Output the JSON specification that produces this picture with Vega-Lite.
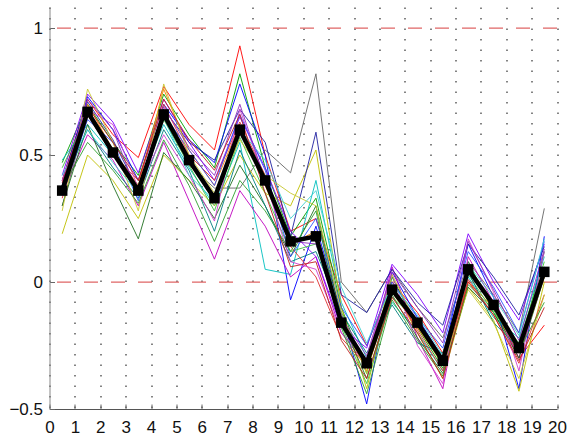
{
  "$schema": "https://vega.github.io/schema/vega-lite/v6.json",
  "width": 507.5,
  "height": 402,
  "autosize": {"type": "none"},
  "padding": {"left": 49.5, "top": 7, "right": 13, "bottom": 30},
  "background": "white",
  "config": {
    "view": {"stroke": null},
    "axis": {"labelFont": "Liberation Sans", "labelFontSize": 17, "labelColor": "#111", "domainColor": "#777", "ticks": true, "tickSize": -5, "tickColor": "#666", "title": null, "labelFlush": false}
  },
  "datasets": {
    "refs": [{"ref": 0}, {"ref": 1}],
    "mean": [
      {"x":0.5,"y":0.36},{"x":1.5,"y":0.67},{"x":2.5,"y":0.51},{"x":3.5,"y":0.36},{"x":4.5,"y":0.66},
      {"x":5.5,"y":0.48},{"x":6.5,"y":0.33},{"x":7.5,"y":0.60},{"x":8.5,"y":0.40},{"x":9.5,"y":0.16},
      {"x":10.5,"y":0.18},{"x":11.5,"y":-0.16},{"x":12.5,"y":-0.32},{"x":13.5,"y":-0.03},{"x":14.5,"y":-0.16},
      {"x":15.5,"y":-0.31},{"x":16.5,"y":0.05},{"x":17.5,"y":-0.09},{"x":18.5,"y":-0.26},{"x":19.5,"y":0.04}
    ],
    "thin": [
      {"s":"s1","x":0.5,"y":0.40},{"s":"s1","x":1.5,"y":0.72},{"s":"s1","x":2.5,"y":0.58},{"s":"s1","x":3.5,"y":0.49},{"s":"s1","x":4.5,"y":0.77},{"s":"s1","x":5.5,"y":0.62},{"s":"s1","x":6.5,"y":0.52},{"s":"s1","x":7.5,"y":0.93},{"s":"s1","x":8.5,"y":0.50},{"s":"s1","x":9.5,"y":0.20},{"s":"s1","x":10.5,"y":0.25},{"s":"s1","x":11.5,"y":-0.05},{"s":"s1","x":12.5,"y":-0.25},{"s":"s1","x":13.5,"y":0.00},{"s":"s1","x":14.5,"y":-0.12},{"s":"s1","x":15.5,"y":-0.28},{"s":"s1","x":16.5,"y":0.06},{"s":"s1","x":17.5,"y":-0.10},{"s":"s1","x":18.5,"y":-0.30},{"s":"s1","x":19.5,"y":-0.17},
      {"s":"s2","x":0.5,"y":0.47},{"s":"s2","x":1.5,"y":0.70},{"s":"s2","x":2.5,"y":0.55},{"s":"s2","x":3.5,"y":0.42},{"s":"s2","x":4.5,"y":0.74},{"s":"s2","x":5.5,"y":0.58},{"s":"s2","x":6.5,"y":0.45},{"s":"s2","x":7.5,"y":0.82},{"s":"s2","x":8.5,"y":0.45},{"s":"s2","x":9.5,"y":0.18},{"s":"s2","x":10.5,"y":0.33},{"s":"s2","x":11.5,"y":-0.10},{"s":"s2","x":12.5,"y":-0.36},{"s":"s2","x":13.5,"y":0.02},{"s":"s2","x":14.5,"y":-0.18},{"s":"s2","x":15.5,"y":-0.34},{"s":"s2","x":16.5,"y":0.08},{"s":"s2","x":17.5,"y":-0.12},{"s":"s2","x":18.5,"y":-0.28},{"s":"s2","x":19.5,"y":0.12},
      {"s":"s3","x":0.5,"y":0.38},{"s":"s3","x":1.5,"y":0.73},{"s":"s3","x":2.5,"y":0.60},{"s":"s3","x":3.5,"y":0.40},{"s":"s3","x":4.5,"y":0.70},{"s":"s3","x":5.5,"y":0.56},{"s":"s3","x":6.5,"y":0.47},{"s":"s3","x":7.5,"y":0.78},{"s":"s3","x":8.5,"y":0.50},{"s":"s3","x":9.5,"y":-0.07},{"s":"s3","x":10.5,"y":0.22},{"s":"s3","x":11.5,"y":-0.12},{"s":"s3","x":12.5,"y":-0.48},{"s":"s3","x":13.5,"y":0.04},{"s":"s3","x":14.5,"y":-0.14},{"s":"s3","x":15.5,"y":-0.30},{"s":"s3","x":16.5,"y":0.15},{"s":"s3","x":17.5,"y":-0.06},{"s":"s3","x":18.5,"y":-0.42},{"s":"s3","x":19.5,"y":0.18},
      {"s":"s4","x":0.5,"y":0.30},{"s":"s4","x":1.5,"y":0.66},{"s":"s4","x":2.5,"y":0.50},{"s":"s4","x":3.5,"y":0.38},{"s":"s4","x":4.5,"y":0.66},{"s":"s4","x":5.5,"y":0.46},{"s":"s4","x":6.5,"y":0.37},{"s":"s4","x":7.5,"y":0.37},{"s":"s4","x":8.5,"y":0.52},{"s":"s4","x":9.5,"y":0.43},{"s":"s4","x":10.5,"y":0.82},{"s":"s4","x":11.5,"y":0.00},{"s":"s4","x":12.5,"y":-0.12},{"s":"s4","x":13.5,"y":0.05},{"s":"s4","x":14.5,"y":-0.10},{"s":"s4","x":15.5,"y":-0.22},{"s":"s4","x":16.5,"y":0.08},{"s":"s4","x":17.5,"y":-0.05},{"s":"s4","x":18.5,"y":-0.20},{"s":"s4","x":19.5,"y":0.29},
      {"s":"s5","x":0.5,"y":0.48},{"s":"s5","x":1.5,"y":0.62},{"s":"s5","x":2.5,"y":0.50},{"s":"s5","x":3.5,"y":0.38},{"s":"s5","x":4.5,"y":0.62},{"s":"s5","x":5.5,"y":0.45},{"s":"s5","x":6.5,"y":0.30},{"s":"s5","x":7.5,"y":0.55},{"s":"s5","x":8.5,"y":0.05},{"s":"s5","x":9.5,"y":0.03},{"s":"s5","x":10.5,"y":0.40},{"s":"s5","x":11.5,"y":-0.08},{"s":"s5","x":12.5,"y":-0.30},{"s":"s5","x":13.5,"y":-0.08},{"s":"s5","x":14.5,"y":-0.20},{"s":"s5","x":15.5,"y":-0.35},{"s":"s5","x":16.5,"y":0.02},{"s":"s5","x":17.5,"y":-0.14},{"s":"s5","x":18.5,"y":-0.22},{"s":"s5","x":19.5,"y":0.10},
      {"s":"s6","x":0.5,"y":0.35},{"s":"s6","x":1.5,"y":0.58},{"s":"s6","x":2.5,"y":0.48},{"s":"s6","x":3.5,"y":0.30},{"s":"s6","x":4.5,"y":0.55},{"s":"s6","x":5.5,"y":0.32},{"s":"s6","x":6.5,"y":0.09},{"s":"s6","x":7.5,"y":0.36},{"s":"s6","x":8.5,"y":0.22},{"s":"s6","x":9.5,"y":0.02},{"s":"s6","x":10.5,"y":0.10},{"s":"s6","x":11.5,"y":-0.20},{"s":"s6","x":12.5,"y":-0.33},{"s":"s6","x":13.5,"y":0.06},{"s":"s6","x":14.5,"y":-0.22},{"s":"s6","x":15.5,"y":-0.42},{"s":"s6","x":16.5,"y":0.10},{"s":"s6","x":17.5,"y":-0.08},{"s":"s6","x":18.5,"y":-0.30},{"s":"s6","x":19.5,"y":0.05},
      {"s":"s7","x":0.5,"y":0.19},{"s":"s7","x":1.5,"y":0.50},{"s":"s7","x":2.5,"y":0.40},{"s":"s7","x":3.5,"y":0.25},{"s":"s7","x":4.5,"y":0.50},{"s":"s7","x":5.5,"y":0.40},{"s":"s7","x":6.5,"y":0.30},{"s":"s7","x":7.5,"y":0.50},{"s":"s7","x":8.5,"y":0.35},{"s":"s7","x":9.5,"y":0.30},{"s":"s7","x":10.5,"y":0.52},{"s":"s7","x":11.5,"y":-0.10},{"s":"s7","x":12.5,"y":-0.42},{"s":"s7","x":13.5,"y":-0.02},{"s":"s7","x":14.5,"y":-0.20},{"s":"s7","x":15.5,"y":-0.38},{"s":"s7","x":16.5,"y":-0.02},{"s":"s7","x":17.5,"y":-0.15},{"s":"s7","x":18.5,"y":-0.43},{"s":"s7","x":19.5,"y":0.00},
      {"s":"s8","x":0.5,"y":0.30},{"s":"s8","x":1.5,"y":0.62},{"s":"s8","x":2.5,"y":0.38},{"s":"s8","x":3.5,"y":0.17},{"s":"s8","x":4.5,"y":0.51},{"s":"s8","x":5.5,"y":0.40},{"s":"s8","x":6.5,"y":0.25},{"s":"s8","x":7.5,"y":0.46},{"s":"s8","x":8.5,"y":0.30},{"s":"s8","x":9.5,"y":0.10},{"s":"s8","x":10.5,"y":0.30},{"s":"s8","x":11.5,"y":-0.15},{"s":"s8","x":12.5,"y":-0.38},{"s":"s8","x":13.5,"y":-0.05},{"s":"s8","x":14.5,"y":-0.22},{"s":"s8","x":15.5,"y":-0.36},{"s":"s8","x":16.5,"y":-0.02},{"s":"s8","x":17.5,"y":-0.12},{"s":"s8","x":18.5,"y":-0.30},{"s":"s8","x":19.5,"y":0.02},
      {"s":"s9","x":0.5,"y":0.42},{"s":"s9","x":1.5,"y":0.74},{"s":"s9","x":2.5,"y":0.63},{"s":"s9","x":3.5,"y":0.43},{"s":"s9","x":4.5,"y":0.72},{"s":"s9","x":5.5,"y":0.55},{"s":"s9","x":6.5,"y":0.40},{"s":"s9","x":7.5,"y":0.65},{"s":"s9","x":8.5,"y":0.45},{"s":"s9","x":9.5,"y":0.20},{"s":"s9","x":10.5,"y":0.10},{"s":"s9","x":11.5,"y":-0.18},{"s":"s9","x":12.5,"y":-0.26},{"s":"s9","x":13.5,"y":0.07},{"s":"s9","x":14.5,"y":-0.05},{"s":"s9","x":15.5,"y":-0.20},{"s":"s9","x":16.5,"y":0.19},{"s":"s9","x":17.5,"y":0.00},{"s":"s9","x":18.5,"y":-0.15},{"s":"s9","x":19.5,"y":0.15},
      {"s":"s10","x":0.5,"y":0.36},{"s":"s10","x":1.5,"y":0.70},{"s":"s10","x":2.5,"y":0.52},{"s":"s10","x":3.5,"y":0.38},{"s":"s10","x":4.5,"y":0.76},{"s":"s10","x":5.5,"y":0.52},{"s":"s10","x":6.5,"y":0.38},{"s":"s10","x":7.5,"y":0.62},{"s":"s10","x":8.5,"y":0.38},{"s":"s10","x":9.5,"y":0.15},{"s":"s10","x":10.5,"y":0.20},{"s":"s10","x":11.5,"y":-0.15},{"s":"s10","x":12.5,"y":-0.35},{"s":"s10","x":13.5,"y":-0.04},{"s":"s10","x":14.5,"y":-0.18},{"s":"s10","x":15.5,"y":-0.32},{"s":"s10","x":16.5,"y":0.00},{"s":"s10","x":17.5,"y":-0.10},{"s":"s10","x":18.5,"y":-0.28},{"s":"s10","x":19.5,"y":0.02},
      {"s":"s11","x":0.5,"y":0.40},{"s":"s11","x":1.5,"y":0.71},{"s":"s11","x":2.5,"y":0.56},{"s":"s11","x":3.5,"y":0.36},{"s":"s11","x":4.5,"y":0.68},{"s":"s11","x":5.5,"y":0.55},{"s":"s11","x":6.5,"y":0.48},{"s":"s11","x":7.5,"y":0.68},{"s":"s11","x":8.5,"y":0.55},{"s":"s11","x":9.5,"y":0.18},{"s":"s11","x":10.5,"y":0.59},{"s":"s11","x":11.5,"y":-0.05},{"s":"s11","x":12.5,"y":-0.12},{"s":"s11","x":13.5,"y":0.05},{"s":"s11","x":14.5,"y":-0.08},{"s":"s11","x":15.5,"y":-0.17},{"s":"s11","x":16.5,"y":0.15},{"s":"s11","x":17.5,"y":0.02},{"s":"s11","x":18.5,"y":-0.13},{"s":"s11","x":19.5,"y":0.14},
      {"s":"s12","x":0.5,"y":0.45},{"s":"s12","x":1.5,"y":0.66},{"s":"s12","x":2.5,"y":0.52},{"s":"s12","x":3.5,"y":0.35},{"s":"s12","x":4.5,"y":0.64},{"s":"s12","x":5.5,"y":0.46},{"s":"s12","x":6.5,"y":0.28},{"s":"s12","x":7.5,"y":0.57},{"s":"s12","x":8.5,"y":0.35},{"s":"s12","x":9.5,"y":0.12},{"s":"s12","x":10.5,"y":0.15},{"s":"s12","x":11.5,"y":-0.17},{"s":"s12","x":12.5,"y":-0.40},{"s":"s12","x":13.5,"y":-0.06},{"s":"s12","x":14.5,"y":-0.15},{"s":"s12","x":15.5,"y":-0.33},{"s":"s12","x":16.5,"y":0.03},{"s":"s12","x":17.5,"y":-0.12},{"s":"s12","x":18.5,"y":-0.24},{"s":"s12","x":19.5,"y":0.08},
      {"s":"s13","x":0.5,"y":0.38},{"s":"s13","x":1.5,"y":0.60},{"s":"s13","x":2.5,"y":0.45},{"s":"s13","x":3.5,"y":0.33},{"s":"s13","x":4.5,"y":0.60},{"s":"s13","x":5.5,"y":0.44},{"s":"s13","x":6.5,"y":0.20},{"s":"s13","x":7.5,"y":0.52},{"s":"s13","x":8.5,"y":0.30},{"s":"s13","x":9.5,"y":0.08},{"s":"s13","x":10.5,"y":0.12},{"s":"s13","x":11.5,"y":-0.12},{"s":"s13","x":12.5,"y":-0.28},{"s":"s13","x":13.5,"y":-0.09},{"s":"s13","x":14.5,"y":-0.24},{"s":"s13","x":15.5,"y":-0.28},{"s":"s13","x":16.5,"y":0.04},{"s":"s13","x":17.5,"y":-0.16},{"s":"s13","x":18.5,"y":-0.26},{"s":"s13","x":19.5,"y":0.06},
      {"s":"s14","x":0.5,"y":0.33},{"s":"s14","x":1.5,"y":0.66},{"s":"s14","x":2.5,"y":0.50},{"s":"s14","x":3.5,"y":0.40},{"s":"s14","x":4.5,"y":0.70},{"s":"s14","x":5.5,"y":0.50},{"s":"s14","x":6.5,"y":0.40},{"s":"s14","x":7.5,"y":0.63},{"s":"s14","x":8.5,"y":0.42},{"s":"s14","x":9.5,"y":0.14},{"s":"s14","x":10.5,"y":0.02},{"s":"s14","x":11.5,"y":-0.22},{"s":"s14","x":12.5,"y":-0.33},{"s":"s14","x":13.5,"y":-0.02},{"s":"s14","x":14.5,"y":-0.19},{"s":"s14","x":15.5,"y":-0.35},{"s":"s14","x":16.5,"y":0.01},{"s":"s14","x":17.5,"y":-0.13},{"s":"s14","x":18.5,"y":-0.32},{"s":"s14","x":19.5,"y":-0.05},
      {"s":"s15","x":0.5,"y":0.40},{"s":"s15","x":1.5,"y":0.68},{"s":"s15","x":2.5,"y":0.62},{"s":"s15","x":3.5,"y":0.37},{"s":"s15","x":4.5,"y":0.58},{"s":"s15","x":5.5,"y":0.42},{"s":"s15","x":6.5,"y":0.24},{"s":"s15","x":7.5,"y":0.68},{"s":"s15","x":8.5,"y":0.40},{"s":"s15","x":9.5,"y":0.08},{"s":"s15","x":10.5,"y":0.05},{"s":"s15","x":11.5,"y":-0.20},{"s":"s15","x":12.5,"y":-0.30},{"s":"s15","x":13.5,"y":0.03},{"s":"s15","x":14.5,"y":-0.25},{"s":"s15","x":15.5,"y":-0.40},{"s":"s15","x":16.5,"y":0.17},{"s":"s15","x":17.5,"y":-0.04},{"s":"s15","x":18.5,"y":-0.35},{"s":"s15","x":19.5,"y":0.12},
      {"s":"s16","x":0.5,"y":0.34},{"s":"s16","x":1.5,"y":0.64},{"s":"s16","x":2.5,"y":0.55},{"s":"s16","x":3.5,"y":0.32},{"s":"s16","x":4.5,"y":0.66},{"s":"s16","x":5.5,"y":0.52},{"s":"s16","x":6.5,"y":0.38},{"s":"s16","x":7.5,"y":0.66},{"s":"s16","x":8.5,"y":0.44},{"s":"s16","x":9.5,"y":0.10},{"s":"s16","x":10.5,"y":0.25},{"s":"s16","x":11.5,"y":-0.10},{"s":"s16","x":12.5,"y":-0.25},{"s":"s16","x":13.5,"y":0.00},{"s":"s16","x":14.5,"y":-0.14},{"s":"s16","x":15.5,"y":-0.26},{"s":"s16","x":16.5,"y":0.12},{"s":"s16","x":17.5,"y":-0.02},{"s":"s16","x":18.5,"y":-0.20},{"s":"s16","x":19.5,"y":0.16},
      {"s":"s17","x":0.5,"y":0.28},{"s":"s17","x":1.5,"y":0.76},{"s":"s17","x":2.5,"y":0.55},{"s":"s17","x":3.5,"y":0.28},{"s":"s17","x":4.5,"y":0.78},{"s":"s17","x":5.5,"y":0.50},{"s":"s17","x":6.5,"y":0.35},{"s":"s17","x":7.5,"y":0.56},{"s":"s17","x":8.5,"y":0.42},{"s":"s17","x":9.5,"y":0.35},{"s":"s17","x":10.5,"y":0.30},{"s":"s17","x":11.5,"y":-0.12},{"s":"s17","x":12.5,"y":-0.36},{"s":"s17","x":13.5,"y":0.03},{"s":"s17","x":14.5,"y":-0.17},{"s":"s17","x":15.5,"y":-0.33},{"s":"s17","x":16.5,"y":-0.03},{"s":"s17","x":17.5,"y":-0.16},{"s":"s17","x":18.5,"y":-0.38},{"s":"s17","x":19.5,"y":-0.05},
      {"s":"s18","x":0.5,"y":0.37},{"s":"s18","x":1.5,"y":0.55},{"s":"s18","x":2.5,"y":0.44},{"s":"s18","x":3.5,"y":0.31},{"s":"s18","x":4.5,"y":0.56},{"s":"s18","x":5.5,"y":0.38},{"s":"s18","x":6.5,"y":0.16},{"s":"s18","x":7.5,"y":0.40},{"s":"s18","x":8.5,"y":0.28},{"s":"s18","x":9.5,"y":0.12},{"s":"s18","x":10.5,"y":0.28},{"s":"s18","x":11.5,"y":-0.18},{"s":"s18","x":12.5,"y":-0.44},{"s":"s18","x":13.5,"y":-0.07},{"s":"s18","x":14.5,"y":-0.23},{"s":"s18","x":15.5,"y":-0.37},{"s":"s18","x":16.5,"y":-0.01},{"s":"s18","x":17.5,"y":-0.11},{"s":"s18","x":18.5,"y":-0.27},{"s":"s18","x":19.5,"y":-0.08},
      {"s":"s19","x":0.5,"y":0.42},{"s":"s19","x":1.5,"y":0.60},{"s":"s19","x":2.5,"y":0.47},{"s":"s19","x":3.5,"y":0.35},{"s":"s19","x":4.5,"y":0.65},{"s":"s19","x":5.5,"y":0.42},{"s":"s19","x":6.5,"y":0.32},{"s":"s19","x":7.5,"y":0.60},{"s":"s19","x":8.5,"y":0.48},{"s":"s19","x":9.5,"y":0.25},{"s":"s19","x":10.5,"y":0.36},{"s":"s19","x":11.5,"y":-0.02},{"s":"s19","x":12.5,"y":-0.24},{"s":"s19","x":13.5,"y":-0.01},{"s":"s19","x":14.5,"y":-0.13},{"s":"s19","x":15.5,"y":-0.29},{"s":"s19","x":16.5,"y":0.07},{"s":"s19","x":17.5,"y":-0.06},{"s":"s19","x":18.5,"y":-0.21},{"s":"s19","x":19.5,"y":0.17},
      {"s":"s20","x":0.5,"y":0.36},{"s":"s20","x":1.5,"y":0.72},{"s":"s20","x":2.5,"y":0.60},{"s":"s20","x":3.5,"y":0.34},{"s":"s20","x":4.5,"y":0.69},{"s":"s20","x":5.5,"y":0.53},{"s":"s20","x":6.5,"y":0.42},{"s":"s20","x":7.5,"y":0.70},{"s":"s20","x":8.5,"y":0.40},{"s":"s20","x":9.5,"y":0.16},{"s":"s20","x":10.5,"y":0.15},{"s":"s20","x":11.5,"y":-0.14},{"s":"s20","x":12.5,"y":-0.29},{"s":"s20","x":13.5,"y":0.04},{"s":"s20","x":14.5,"y":-0.10},{"s":"s20","x":15.5,"y":-0.24},{"s":"s20","x":16.5,"y":0.16},{"s":"s20","x":17.5,"y":-0.03},{"s":"s20","x":18.5,"y":-0.23},{"s":"s20","x":19.5,"y":0.13},
      {"s":"s21","x":0.5,"y":0.39},{"s":"s21","x":1.5,"y":0.69},{"s":"s21","x":2.5,"y":0.55},{"s":"s21","x":3.5,"y":0.40},{"s":"s21","x":4.5,"y":0.72},{"s":"s21","x":5.5,"y":0.56},{"s":"s21","x":6.5,"y":0.44},{"s":"s21","x":7.5,"y":0.66},{"s":"s21","x":8.5,"y":0.35},{"s":"s21","x":9.5,"y":0.06},{"s":"s21","x":10.5,"y":0.08},{"s":"s21","x":11.5,"y":-0.23},{"s":"s21","x":12.5,"y":-0.38},{"s":"s21","x":13.5,"y":-0.06},{"s":"s21","x":14.5,"y":-0.20},{"s":"s21","x":15.5,"y":-0.38},{"s":"s21","x":16.5,"y":0.00},{"s":"s21","x":17.5,"y":-0.13},{"s":"s21","x":18.5,"y":-0.31},{"s":"s21","x":19.5,"y":-0.10}
    ]
  },
  "layer": [
    {
      "data": {"name": "refs"},
      "mark": {"type": "rule", "color": "#e06666", "strokeWidth": 1.3, "strokeDash": [14, 13]},
      "encoding": {
        "y": {"field": "ref", "type": "quantitative", "scale": {"domain": [-0.5, 1.083], "nice": false, "zero": false},
              "axis": {"values": [-0.5, 0, 0.5, 1], "format": "~g", "grid": false, "labelPadding": 12, "labelFlush": false, "domainColor": "#888"}}
      }
    },
    {
      "data": {"name": "thin"},
      "mark": {"type": "line", "strokeWidth": 1, "opacity": 0.9},
      "encoding": {
        "x": {"field": "x", "type": "quantitative", "scale": {"domain": [0, 20], "nice": false, "zero": false},
              "axis": {"values": [0,1,2,3,4,5,6,7,8,9,10,11,12,13,14,15,16,17,18,19,20], "format": "d", "labelOverlap": false, "labelFlush": false, "labelPadding": 15, "grid": true, "gridDash": [1.5, 9], "gridColor": "#333", "gridWidth": 1.2, "domainColor": "#555"}},
        "y": {"field": "y", "type": "quantitative", "scale": {"domain": [-0.5, 1.083], "nice": false, "zero": false},
              "axis": {"values": [-0.5, 0, 0.5, 1], "format": "~g", "grid": false, "labelPadding": 12, "labelFlush": false, "domainColor": "#888"}},
        "color": {"field": "s", "type": "nominal", "legend": null,
                  "scale": {"domain": ["s1","s2","s3","s4","s5","s6","s7","s8","s9","s10","s11","s12","s13","s14","s15","s16","s17","s18","s19","s20","s21"],
                            "range": ["#ff0000","#00a000","#0000ff","#666666","#00bfbf","#bf00bf","#bfbf00","#207020","#7f00ff","#ff8000","#2020a0","#40c040","#008080","#e03030","#d040d0","#3050ff","#c8c830","#30a030","#40d0d0","#9030c0","#c02020"]}}
      }
    },
    {
      "data": {"name": "mean"},
      "mark": {"type": "line", "color": "black", "strokeWidth": 4.5},
      "encoding": {
        "x": {"field": "x", "type": "quantitative", "scale": {"domain": [0, 20], "nice": false, "zero": false},
              "axis": {"values": [0,1,2,3,4,5,6,7,8,9,10,11,12,13,14,15,16,17,18,19,20], "format": "d", "labelOverlap": false, "labelFlush": false, "labelPadding": 15, "grid": true, "gridDash": [1.5, 9], "gridColor": "#333", "gridWidth": 1.2, "domainColor": "#555"}},
        "y": {"field": "y", "type": "quantitative", "scale": {"domain": [-0.5, 1.083], "nice": false, "zero": false},
              "axis": {"values": [-0.5, 0, 0.5, 1], "format": "~g", "grid": false, "labelPadding": 12, "labelFlush": false, "domainColor": "#888"}}
      }
    },
    {
      "data": {"name": "mean"},
      "mark": {"type": "point", "shape": "square", "filled": true, "color": "black", "size": 110, "opacity": 1},
      "encoding": {
        "x": {"field": "x", "type": "quantitative", "scale": {"domain": [0, 20], "nice": false, "zero": false},
              "axis": {"values": [0,1,2,3,4,5,6,7,8,9,10,11,12,13,14,15,16,17,18,19,20], "format": "d", "labelOverlap": false, "labelFlush": false, "labelPadding": 15, "grid": true, "gridDash": [1.5, 9], "gridColor": "#333", "gridWidth": 1.2, "domainColor": "#555"}},
        "y": {"field": "y", "type": "quantitative", "scale": {"domain": [-0.5, 1.083], "nice": false, "zero": false},
              "axis": {"values": [-0.5, 0, 0.5, 1], "format": "~g", "grid": false, "labelPadding": 12, "labelFlush": false, "domainColor": "#888"}}
      }
    }
  ]
}
